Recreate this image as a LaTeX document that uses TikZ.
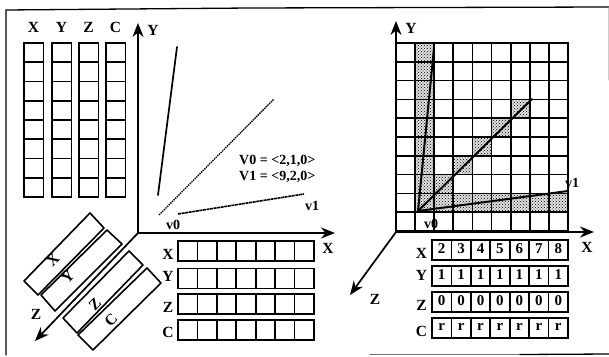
\documentclass[tikz,border=0pt]{standalone}
\usepackage{fontspec}
\setmainfont{Liberation Serif}
\usepackage{tikz}
\usetikzlibrary{arrows.meta, patterns}
\tikzset{
  lbl/.style={font=\fontsize{15.5}{15.5}\selectfont\bfseries, inner sep=0pt},
  small lbl/.style={font=\fontsize{14}{14}\selectfont\bfseries, inner sep=0pt},
  val/.style={font=\fontsize{15}{15}\selectfont\bfseries, inner sep=0pt},
  cellbox/.style={draw, line width=1.7pt},
  axis/.style={draw, line width=1.7pt, -{Stealth[length=14pt, width=11pt]}},
  slab/.style={draw, line width=1.6pt, line join=round},
  shade/.style={fill=black!12, postaction={pattern=crosshatch dots, pattern color=black}},
}
\begin{document}
\begin{tikzpicture}[x=1pt, y=-1pt, line cap=round]
  \useasboundingbox (0,0) rectangle (609,356);
  % frame
  \draw[line width=1.3pt] (6,355) -- (6,10) -- (250,8) -- (609,7);
  \draw[line width=1.3pt, black!55] (370,354.5) -- (520,354.5);
  \draw[line width=1.3pt] (520,354.5) -- (609,354);
  \draw[line width=.6pt, black!20] (608,8) -- (608,80);

  % left panel: columns
  \foreach \n/\x in {X/24, Y/52, Z/79, C/106} {
    \foreach \y in {0,...,7} {
      \draw[cellbox] (\x, 43+\y*19.25) rectangle (\x+19.5, 43+\y*19.25+19.25);
    }
    \node[lbl] (top\n) at (\x+9.5, 27) {\n};
  }
  % left panel: rows
  \foreach \n/\y/\ly in {X/241/254, Y/268.5/276, Z/294/307, C/320/332} {
    \foreach \x in {0,...,6} {
      \draw[cellbox] (178+\x*19.43, \y) rectangle (178+\x*19.43+19.43, \y+20);
    }
    \node[lbl] (row\n) at (168, \ly) {\n};
  }
  % left panel: slabs along z
  \draw[slab] (90,213) -- (104,228) -- (38,295) -- (24,281) -- cycle;
  \draw[slab] (107,230) -- (122,244) -- (55,311) -- (41,295) -- cycle;
  \draw[slab] (129,251) -- (143,265) -- (77,333) -- (63,318) -- cycle;
  \draw[slab] (147,268) -- (161,283) -- (93,350) -- (78,335) -- cycle;
  \node[lbl, rotate=45] (slabX) at (53,260) {X};
  \node[lbl, rotate=45] (slabY) at (68,277) {Y};
  \node[lbl, rotate=45] (slabZ) at (95,304) {Z};
  \node[lbl, rotate=45] (slabC) at (111,320) {C};

  % left panel: axes
  \coordinate (orgL) at (138,233);
  \coordinate (endLx) at (335,233);
  \coordinate (endLy) at (138,23);
  \coordinate (endLz) at (35,341);
  \draw[axis] (orgL) -- (endLx);
  \draw[axis] (orgL) -- (endLy);
  \draw[axis] (orgL) -- (endLz);
  \node[lbl] (axLx) at (328,248) {X};
  \node[lbl] (axLy) at (153,30) {Y};
  \node[lbl] (axLz) at (36,314) {Z};

  % left panel: lines
  \coordinate (steepA) at (158,195);
  \coordinate (steepB) at (177,47);
  \coordinate (diagA) at (159,215);
  \coordinate (diagB) at (274,99);
  \coordinate (flatA) at (178,214);
  \coordinate (flatB) at (304,194);
  \draw[line width=1.7pt] (steepA) -- (steepB);
  \draw[line width=1.3pt, dash pattern=on 1.5pt off .8pt, line cap=butt] (diagA) -- (diagB);
  \draw[line width=1.6pt, dash pattern=on 3pt off .6pt, line cap=butt] (flatA) -- (flatB);
  \node[small lbl] (v0L) at (173,225) {v0};
  \node[small lbl] (v1L) at (312,206) {v1};
  \node[small lbl, anchor=west] (eqA) at (239,160.5) {V0 = <2,1,0>};
  \node[small lbl, anchor=west] (eqB) at (239,177) {V1 = <9,2,0>};

  % right panel: shaded cells
  \foreach \c/\r in {1/0,1/1,1/2,1/3,1/4,1/5,1/6,1/7,1/8,
                     2/7,3/6,4/5,5/4,6/3,
                     2/8,3/8,4/8,5/8,6/8,7/8,8/8} {
    \path[shade] (396+\c*19.11, 43+\r*18.8) rectangle (396+\c*19.11+19.11, 43+\r*18.8+18.8);
  }
  % right panel: grid
  \foreach \c in {0,...,8} {
    \foreach \r in {0,...,9} {
      \draw[cellbox] (396+\c*19.11, 43+\r*18.8) rectangle (396+\c*19.11+19.11, 43+\r*18.8+18.8);
    }
  }
  % right panel: lines
  \coordinate (startR) at (418,211);
  \coordinate (steepR) at (434,48);
  \coordinate (diagR) at (532,99);
  \coordinate (flatR) at (568,191);
  \draw[line width=2pt] (startR) -- (steepR);
  \draw[line width=2pt] (startR) -- (diagR);
  \draw[line width=2pt] (startR) -- (flatR);
  \node[small lbl] (v0R) at (431,224) {v0};
  \node[small lbl] (v1R) at (572,183) {v1};

  % right panel: axes
  \coordinate (orgR) at (396,232);
  \coordinate (endRx) at (594,232);
  \coordinate (endRy) at (396,21);
  \coordinate (endRz) at (350,295);
  \draw[axis] (orgR) -- (endRx);
  \draw[axis] (orgR) -- (endRy);
  \draw[axis] (orgR) -- (endRz);
  \node[lbl] (axRx) at (587,247) {X};
  \node[lbl] (axRy) at (411,28) {Y};
  \node[lbl] (axRz) at (375,299) {Z};

  % right panel: rows with values
  \foreach \n/\y/\ly/\vals in {X/240/253/{2,3,4,5,6,7,8}, Y/266/275/{1,1,1,1,1,1,1},
                               Z/292/305/{0,0,0,0,0,0,0}, C/318/331/{r,r,r,r,r,r,r}} {
    \node[lbl] (val\n) at (421.5, \ly) {\n};
    \foreach \v [count=\i from 0] in \vals {
      \draw[cellbox] (432+\i*19.43, \y) rectangle (432+\i*19.43+19.43, \y+20);
      \node[val] (val\n\i) at (432+\i*19.43+9.7, \y+9) {\v};
    }
  }
\end{tikzpicture}
\end{document}
